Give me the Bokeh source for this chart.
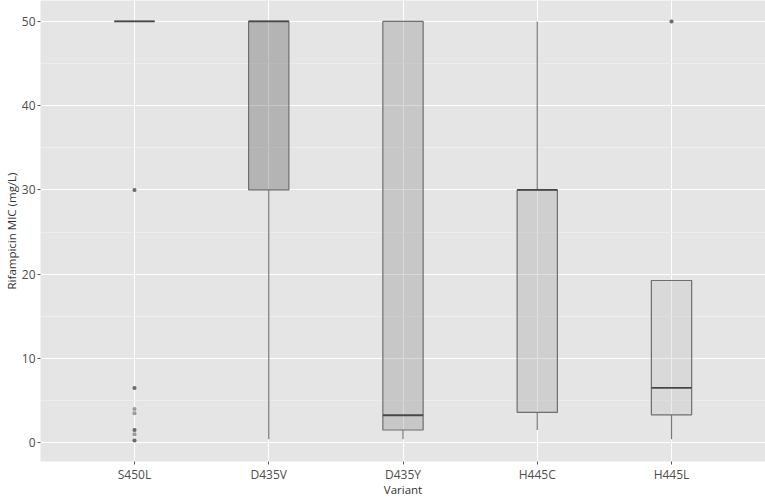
from bokeh.plotting import figure
from bokeh.models import Range1d, SingleIntervalTicker, ColumnDataSource
from bokeh.transform import dodge
from bokeh.embed import file_html
from bokeh.resources import INLINE

variants = ["S450L", "D435V", "D435Y", "H445C", "H445L"]
lower_whisker = [50, 0.4, 0.4, 1.5, 0.4]
q1 = [50, 30, 1.5, 3.6, 3.3]
median = [50, 50, 3.25, 30, 6.5]
q3 = [50, 50, 50, 30, 19.25]
upper_whisker = [50, 50, 50, 50, 19.25]
fill_colors = ["#303030", "#424242", "#818181", "#9c9c9c", "#bdbdbd"]

outlier_variant = ["S450L", "S450L", "S450L", "S450L", "S450L", "S450L", "S450L",
                   "S450L", "S450L", "S450L", "S450L", "H445L", "H445L"]
outlier_value = [30, 30, 6.5, 6.5, 4, 3.5, 1.5, 1.5, 1, 0.25, 0.25, 50, 50]

FONT = "Open Sans"
BOX_W = 0.3
Y0, Y1 = -2.24, 52.49

p = figure(x_range=variants, y_range=Range1d(Y0, Y1),
           width=765, height=499, output_backend="svg", toolbar_location=None,
           min_border_left=0, min_border_right=0, min_border_top=0, min_border_bottom=0)
p.x_range.range_padding = 0.2
p.x_range.range_padding_units = "absolute"

p.background_fill_color = "#e5e5e5"
p.border_fill_color = "white"
p.outline_line_color = None

src = ColumnDataSource(dict(x=variants, lw=lower_whisker, q1=q1, med=median,
                            q3=q3, uw=upper_whisker, fc=fill_colors))

# whiskers
p.segment(x0="x", y0="q3", x1="x", y1="uw", source=src, line_color="#7a7a7a", line_width=1.2)
p.segment(x0="x", y0="lw", x1="x", y1="q1", source=src, line_color="#7a7a7a", line_width=1.2)
# boxes
p.vbar(x="x", width=BOX_W, top="q3", bottom="q1", source=src, fill_color="fc",
       fill_alpha=0.3, line_color="#6f6f6f", line_width=1.2)
# medians
p.segment(x0=dodge("x", -BOX_W / 2, range=p.x_range), y0="med",
          x1=dodge("x", BOX_W / 2, range=p.x_range), y1="med",
          source=src, line_color="#474747", line_width=1.8)
# outliers
p.scatter(x=outlier_variant, y=outlier_value, size=4, color="#333333",
          alpha=0.45, line_width=0)

yt = SingleIntervalTicker(interval=10, num_minor_ticks=2)
p.yaxis.ticker = yt
p.ygrid.ticker = yt
p.ygrid.grid_line_color = "white"
p.ygrid.grid_line_width = 1.2
p.ygrid.minor_grid_line_color = "#efefef"
p.ygrid.minor_grid_line_width = 0.8
p.xgrid.grid_line_color = "white"
p.xgrid.grid_line_width = 1.0

for ax in (p.xaxis[0], p.yaxis[0]):
    ax.axis_line_color = None
    ax.major_tick_line_color = "#555555"
    ax.major_tick_in = 0
    ax.major_tick_out = 3
    ax.minor_tick_line_color = None
    ax.major_label_text_font = FONT
    ax.major_label_text_font_size = "12px"
    ax.major_label_text_color = "#4d4d4d"
    ax.major_label_standoff = 1
    ax.axis_label_text_font = FONT
    ax.axis_label_text_font_size = "11.5px"
    ax.axis_label_text_font_style = "normal"
    ax.axis_label_text_color = "#333333"
    ax.axis_label_standoff = 0

p.xaxis.axis_label_standoff = -4

p.xaxis.axis_label = "Variant"
p.yaxis.axis_label = "Rifampicin MIC (mg/L)"

open("out.html", "w").write(file_html(p, INLINE))
